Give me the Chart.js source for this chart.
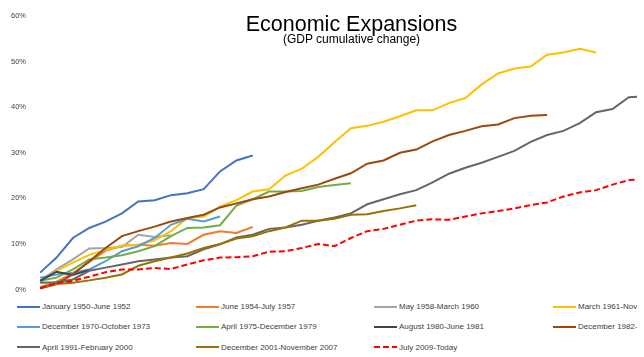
<!DOCTYPE html>
<html>
<head>
<meta charset="utf-8">
<script src="https://cdn.jsdelivr.net/npm/chart.js@4.4.1/dist/chart.umd.min.js"></script>
<style>
  html, body { margin: 0; padding: 0; background: #fff; width: 644px; height: 357px; overflow: hidden; }
  #wrap { position: relative; width: 637px; height: 357px; overflow: hidden; }
  #cv { position: absolute; left: 0; top: 0; }
  .ttl { position: absolute; left: 0; width: 703px; text-align: center; white-space: nowrap;
         font-family: "Liberation Sans", Arial, sans-serif; color: #000; }
  #t1 { top: 13.5px; font-size: 21.5px; line-height: 21.5px; }
  #t2 { top: 33px; font-size: 12px; line-height: 12px; }
  .lg-line { position: absolute; width: 23px; height: 2px; }
  .lg-text { position: absolute; font-family: "Liberation Sans", Arial, sans-serif; font-size: 8px;
             line-height: 10px; height: 10px; color: #404040; white-space: nowrap; }
</style>
</head>
<body>
<div id="wrap">
  <canvas id="cv" width="644" height="300"></canvas>
  <div class="ttl" id="t1">Economic Expansions</div>
  <div class="ttl" id="t2">(GDP cumulative change)</div>
  <div id="legend"></div>
</div>
<script>
// Quarters since the start of each expansion
const quarters = Array.from({ length: 38 }, (_, i) => i);
const yTicks = [0, 10, 20, 30, 40, 50, 60];

const seriesNames = [
  "January 1950-June 1952",
  "June 1954-July 1957",
  "May 1958-March 1960",
  "March 1961-November 1969",
  "December 1970-October 1973",
  "April 1975-December 1979",
  "August 1980-June 1981",
  "December 1982-July 1990",
  "April 1991-February 2000",
  "December 2001-November 2007",
  "July 2009-Today"
];

// cumulative GDP change, %
const jan1950 = [3.7, 7.0, 11.3, 13.5, 14.9, 16.7, 19.3, 19.6, 20.7, 21.1, 22.0, 25.9, 28.3, 29.4];
const jun1954 = [0.5, 1.7, 3.6, 6.0, 8.5, 9.6, 9.8, 9.6, 10.2, 10.0, 12.0, 12.8, 12.4, 13.7];
const may1958 = [1.9, 4.4, 6.6, 9.0, 9.1, 9.3, 12.0, 11.5, 11.9];
const mar1961 = [1.5, 4.1, 5.9, 7.6, 8.7, 9.6, 9.8, 10.8, 12.8, 15.7, 16.0, 18.2, 19.6, 21.5, 22.0, 25.0,
                 26.5, 29.1, 32.3, 35.4, 35.9, 36.8, 38.0, 39.3, 39.3, 40.9, 42.0, 45.0, 47.4, 48.5, 48.9,
                 51.5, 52.0, 52.8, 52.0];
const dec1970 = [2.6, 3.3, 3.7, 4.4, 6.2, 8.4, 9.5, 11.3, 14.2, 15.5, 14.9, 16.0];
const apr1975 = [1.9, 2.6, 4.4, 6.6, 7.0, 7.5, 8.4, 9.5, 11.7, 13.5, 13.6, 14.1, 18.4, 19.8, 21.5, 21.5,
                 21.6, 22.5, 22.9, 23.3];
const aug1980 = [1.9, 3.9, 3.2, 4.3];
const dec1982 = [0.2, 1.2, 3.3, 6.2, 9.1, 11.7, 12.8, 13.8, 14.9, 15.7, 16.4, 18.0, 18.9, 19.8, 20.4, 21.4,
                 22.2, 23.0, 24.3, 25.5, 27.6, 28.3, 30.0, 30.7, 32.5, 33.9, 34.8, 35.8, 36.2, 37.6, 38.1, 38.3];
const apr1991 = [1.5, 1.6, 2.2, 4.1, 4.8, 5.5, 6.2, 6.6, 7.0, 7.3, 8.8, 9.9, 11.4, 12.0, 13.3, 13.6, 14.2,
                 15.1, 15.8, 16.7, 18.7, 19.8, 20.9, 21.8, 23.5, 25.4, 26.7, 27.8, 29.1, 30.4, 32.4, 33.9,
                 34.8, 36.5, 38.9, 39.6, 42.2, 42.4];
const dec2001 = [0.4, 1.2, 1.5, 2.0, 2.6, 3.3, 5.2, 6.2, 7.0, 7.9, 9.1, 10.0, 11.2, 11.7, 12.8, 13.6, 15.1,
                 15.1, 15.5, 16.4, 16.5, 17.2, 17.8, 18.5];
const jul2009 = [0.3, 1.4, 1.9, 2.8, 3.8, 4.4, 4.4, 4.7, 4.5, 5.5, 6.4, 7.0, 7.1, 7.3, 8.3, 8.4, 9.1, 10.0,
                 9.5, 11.3, 12.8, 13.3, 14.2, 15.1, 15.4, 15.3, 16.0, 16.7, 17.2, 17.8, 18.5, 19.1, 20.4,
                 21.3, 21.8, 23.0, 24.0, 24.2];

const seriesValues = [jan1950, jun1954, may1958, mar1961, dec1970, apr1975, aug1980, dec1982, apr1991, dec2001, jul2009];

const seriesColors = ["#4472C4", "#ED7D31", "#A5A5A5", "#FFC000", "#5B9BD5", "#70AD47",
                      "#3A4456", "#9E480E", "#666666", "#997300", "#FF0000"];
const dashedIndex = 10;

const datasets = seriesValues.map((vals, k) => ({
  label: seriesNames[k],
  data: vals.map((v, i) => ({ x: quarters[i], y: v })),
  borderColor: seriesColors[k],
  backgroundColor: seriesColors[k],
  borderWidth: 2,
  borderDash: k === dashedIndex ? [6, 3] : [],
  pointRadius: 0,
  pointHoverRadius: 0,
  tension: 0,
  fill: false,
  order: seriesValues.length - 1 - k,
  clip: { left: false, top: false, right: 0, bottom: false }
}));

new Chart(document.getElementById('cv'), {
  type: 'line',
  data: { datasets },
  options: {
    responsive: false,
    animation: false,
    devicePixelRatio: 1,
    events: [],
    layout: { padding: { top: 16, bottom: 8, left: 0, right: 7 } },
    plugins: { legend: { display: false }, title: { display: false }, tooltip: { enabled: false } },
    scales: {
      x: {
        type: 'linear',
        display: false,
        min: -0.5,
        max: 36.5
      },
      y: {
        min: yTicks[0],
        max: yTicks[yTicks.length - 1],
        afterFit: (s) => { s.width = 32; },
        afterBuildTicks: (s) => { s.ticks = yTicks.map(v => ({ value: v })); },
        grid: { display: false, drawTicks: false },
        border: { display: false },
        ticks: {
          padding: 6,
          color: '#404040',
          font: { family: '"Liberation Sans", Arial, sans-serif', size: 7.5 },
          callback: (v) => v + '%'
        }
      }
    }
  }
});

// Legend (4 columns, row-major like the original)
const legend = document.getElementById('legend');
const colX = [17, 196, 374, 553];
const rowY = [306.7, 327, 347.3];
seriesNames.forEach((name, k) => {
  const col = k % 4, row = Math.floor(k / 4);
  const ln = document.createElement('div');
  ln.className = 'lg-line';
  ln.style.left = colX[col] + 'px';
  ln.style.top = (rowY[row] - 1) + 'px';
  if (k === dashedIndex) {
    ln.style.background = 'repeating-linear-gradient(to right, ' + seriesColors[k] + ' 0 6px, transparent 6px 9px)';
  } else {
    ln.style.background = seriesColors[k];
  }
  legend.appendChild(ln);
  const tx = document.createElement('div');
  tx.className = 'lg-text';
  tx.style.left = (colX[col] + 25) + 'px';
  tx.style.top = (rowY[row] - 4.7) + 'px';
  tx.textContent = name;
  legend.appendChild(tx);
});
</script>
</body>
</html>
